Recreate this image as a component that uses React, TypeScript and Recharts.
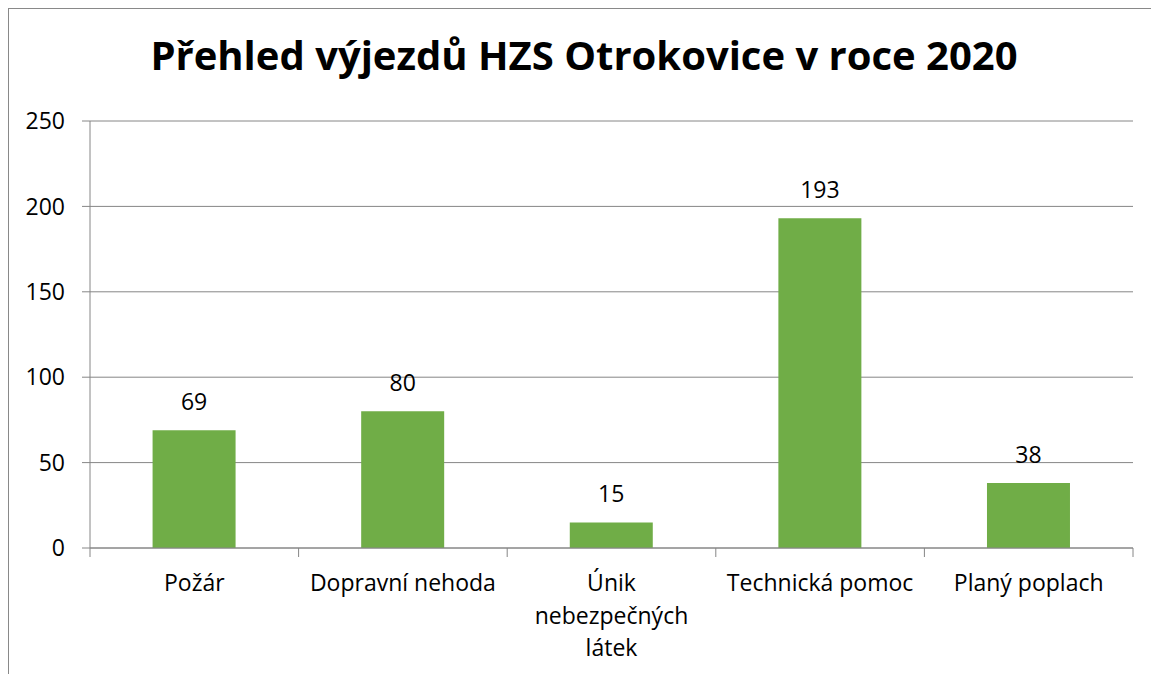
import { BarChart, Bar, XAxis, YAxis, CartesianGrid, LabelList } from 'recharts'

const categories = ['Požár', 'Dopravní nehoda', 'Únik\nnebezpečných\nlátek', 'Technická pomoc', 'Planý poplach']
const counts = [69, 80, 15, 193, 38]
const yTicks = [0, 50, 100, 150, 200, 250]

const data = categories.map((name, i) => ({ name, count: counts[i] }))

const FONT = '"Open Sans", sans-serif'
const GRID = '#868686'
const CHART_W = 1150
const CHART_H = 665
const MARGIN = { top: 112, right: 26, left: 11, bottom: 6 }
const YAXIS_W = 70
const BAND = (CHART_W - MARGIN.left - MARGIN.right - YAXIS_W) / categories.length

const CategoryTick = ({ x, y, payload, index }: any) => {
  const lines = String(payload.value).split('\n')
  return (
    <g>
      <line x1={x - BAND / 2} x2={x - BAND / 2} y1={y} y2={y + 9} stroke={GRID} />
      {index === categories.length - 1 && (
        <line x1={x + BAND / 2} x2={x + BAND / 2} y1={y} y2={y + 9} stroke={GRID} />
      )}
      <text textAnchor="middle" fontSize={23} fontFamily={FONT} fill="#000">
        {lines.map((l, i) => (
          <tspan key={i} x={x} y={y + 43 + i * 32.5}>{l}</tspan>
        ))}
      </text>
    </g>
  )
}

const ValueLabel = ({ x, y, width, value }: any) => (
  <text x={x + width / 2} y={y - 20} textAnchor="middle" fontSize={23} fontFamily={FONT} fill="#000">
    {value}
  </text>
)

export default function App() {
  return (
    <div
      style={{
        position: 'relative',
        boxSizing: 'border-box',
        width: 1151,
        height: 666,
        borderTop: '1px solid #898989',
        borderLeft: '1px solid #898989',
        background: '#fff',
      }}
    >
      <div
        style={{
          position: 'absolute',
          top: 18,
          left: 0,
          width: CHART_W,
          textAlign: 'center',
          fontFamily: FONT,
          fontWeight: 700,
          fontSize: 40,
          color: '#000',
          whiteSpace: 'nowrap',
        }}
      >
        Přehled výjezdů HZS Otrokovice v roce 2020
      </div>
      <BarChart width={CHART_W} height={CHART_H} data={data} margin={MARGIN} barCategoryGap="30%">
        <CartesianGrid vertical={false} stroke={GRID} />
        <XAxis
          dataKey="name"
          interval={0}
          height={120}
          tickSize={0}
          tickMargin={0}
          tickLine={false}
          axisLine={{ stroke: GRID }}
          tick={CategoryTick}
        />
        <YAxis
          width={YAXIS_W}
          domain={[0, 250]}
          ticks={yTicks}
          tickSize={8}
          tickMargin={17}
          tickLine={{ stroke: GRID }}
          axisLine={{ stroke: GRID }}
          tick={{ fontSize: 23, fill: '#000', fontFamily: FONT }}
        />
        <Bar dataKey="count" fill="#70AD47" isAnimationActive={false}>
          <LabelList dataKey="count" content={ValueLabel} />
        </Bar>
      </BarChart>
    </div>
  )
}
